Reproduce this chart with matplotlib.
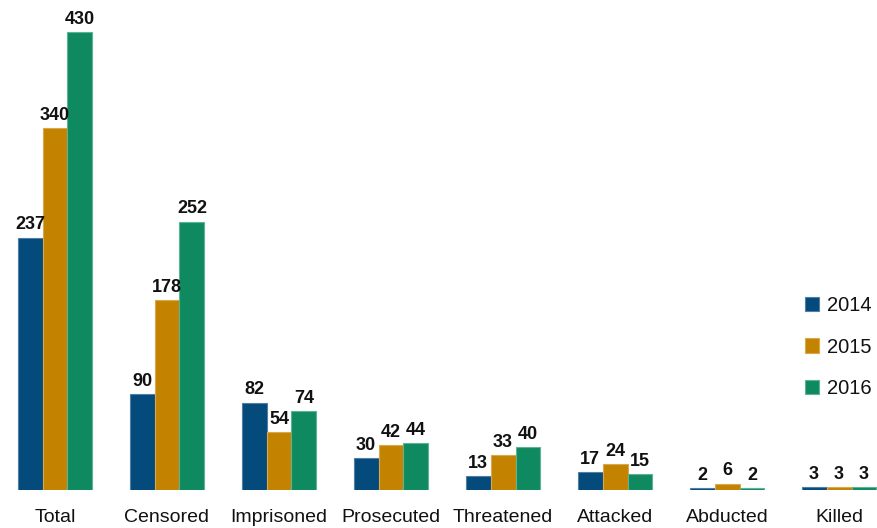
import numpy as np
import matplotlib.pyplot as plt

categories = ["Total", "Censored", "Imprisoned", "Prosecuted", "Threatened",
              "Attacked", "Abducted", "Killed"]
years = ["2014", "2015", "2016"]
v2014 = [237, 90, 82, 30, 13, 17, 2, 3]
v2015 = [340, 178, 54, 42, 33, 24, 6, 3]
v2016 = [430, 252, 74, 44, 40, 15, 2, 3]
colors = ["#044a7b", "#c38300", "#0f8a60"]
edges = ["#4f7fa6", "#d9a84a", "#5fb392"]

plt.rcParams["font.family"] = ["Liberation Sans", "DejaVu Sans"]

fig = plt.figure(figsize=(8.77, 5.28), dpi=100)
ax = fig.add_axes([0, 0.072, 1, 0.928])

x = np.arange(len(categories))
w = 0.223
for k, (vals, c, ec, yr) in enumerate(zip([v2014, v2015, v2016], colors, edges, years)):
    xs = x + (k - 1) * w
    ax.bar(xs, vals, width=w, color=c, edgecolor=ec, linewidth=0.8, label=yr)
    for xi, v in zip(xs, vals):
        ax.text(xi, v + 4, str(v), ha="center", va="bottom", fontsize=13,
                fontweight="bold", color="#111111")

ax.set_xlim(-0.491, 7.339)
ax.set_ylim(0, 460)
ax.set_xticks(x)
ax.set_xticklabels(categories, fontsize=14, color="#111111")
ax.tick_params(axis="x", length=0, pad=14)
ax.set_yticks([])
for s in ax.spines.values():
    s.set_visible(False)

leg = ax.legend(loc="upper left", bbox_to_anchor=(0.918, 0.395), frameon=False,
                fontsize=14.5, handlelength=0.7, handleheight=0.7, handletextpad=0.4,
                labelspacing=1.1, borderaxespad=0, borderpad=0)
for t in leg.get_texts():
    t.set_color("#111111")

fig.savefig("out.png", dpi=100)
